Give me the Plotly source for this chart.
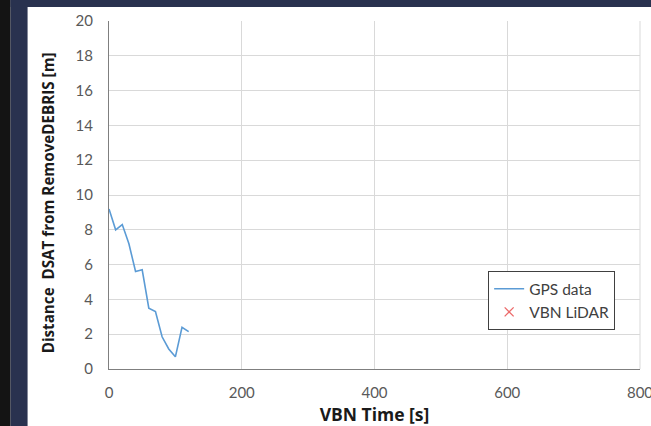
import plotly.graph_objects as go

# Data
gps_time = [0, 10, 20, 30, 40, 50, 60, 70, 80, 90, 100, 110, 120]
gps_dist = [9.2, 8.0, 8.3, 7.2, 5.6, 5.7, 3.5, 3.3, 1.85, 1.15, 0.7, 2.4, 2.15]
lidar_time = []
lidar_dist = []

x_ticks = [0, 200, 400, 600, 800]
y_ticks = [0, 2, 4, 6, 8, 10, 12, 14, 16, 18, 20]

W, H = 651, 426
L, R, T, B = 108.5, 11, 20.5, 57
pw, ph = W - L - R, H - T - B

def px(x):
    return (x - L) / pw

def py(y):
    return (H - B - y) / ph

fig = go.Figure()
fig.add_trace(go.Scatter(x=gps_time, y=gps_dist, mode="lines", name="GPS data",
                         line=dict(color="#5b9bd5", width=1.6)))
fig.add_trace(go.Scatter(x=lidar_time if lidar_time else [None], y=lidar_dist if lidar_dist else [None],
                         mode="markers", name="VBN LiDAR",
                         marker=dict(symbol="x-thin-open", color="#ec6b6b", size=9,
                                     line=dict(color="#ec6b6b", width=1.3))))

tick_font = dict(family="Lato, Noto Sans, sans-serif", size=15, color="#595959")
xtitle_font = dict(family="Open Sans, sans-serif", size=17.5, color="#1a1a1a")
ytitle_font = dict(family="Open Sans, sans-serif", size=15.2, color="#1a1a1a")

fig.update_layout(
    width=W, height=H,
    margin=dict(l=L, r=R, t=T, b=B, pad=0, autoexpand=False),
    paper_bgcolor="white", plot_bgcolor="white",
    showlegend=True,
    legend=dict(x=px(488), y=py(271), xanchor="left", yanchor="top",
                bgcolor="white", bordercolor="#404040", borderwidth=1,
                font=dict(family="Lato, sans-serif", size=15.5, color="#404040"),
                tracegroupgap=0, itemwidth=30),
    xaxis=dict(range=[0, 800], tickvals=x_ticks, ticktext=[str(v) for v in x_ticks],
               automargin=False, ticklabeloverflow="allow",
               showgrid=True, gridcolor="#d9d9d9", gridwidth=1,
               zeroline=False, showline=True, linecolor="#7f7f7f", linewidth=1.3,
               ticks="", tickfont=tick_font, ticklabelstandoff=10,
               title=dict(text="<b>VBN Time [s]</b>", font=xtitle_font, standoff=9)),
    yaxis=dict(range=[0, 20], tickvals=y_ticks, ticktext=[str(v) for v in y_ticks],
               automargin=False,
               showgrid=True, gridcolor="#d9d9d9", gridwidth=1,
               zeroline=False, showline=True, linecolor="#7f7f7f", linewidth=1.3,
               ticks="", tickfont=tick_font, ticklabelstandoff=12,
               title=dict(text="<b>Distance  DSAT from RemoveDEBRIS [m]&nbsp;&nbsp;&nbsp;&nbsp;</b>",
                          font=ytitle_font, standoff=17)),
)

# Right edge gridline at 800 (plot border)
fig.add_shape(type="line", xref="paper", yref="paper", x0=1, x1=1, y0=0, y1=1,
              line=dict(color="#d9d9d9", width=1))

# Dark frame around the chart (screenshot border)
fig.add_shape(type="rect", xref="paper", yref="paper", x0=px(-5), x1=px(10), y0=py(H + 5), y1=py(-5),
              fillcolor="#141414", line=dict(width=0), layer="above")
fig.add_shape(type="rect", xref="paper", yref="paper", x0=px(10), x1=px(27), y0=py(H + 5), y1=py(-5),
              fillcolor="#29324f", line=dict(width=0), layer="above")
fig.add_shape(type="rect", xref="paper", yref="paper", x0=px(10), x1=px(W + 5), y0=py(6.5), y1=py(-5),
              fillcolor="#29324f", line=dict(width=0), layer="above")

fig.write_html("out.html", config={"displayModeBar": False},
               post_script="document.body.style.margin='0';document.body.style.padding='0';"
                           "document.body.style.overflow='hidden';")
